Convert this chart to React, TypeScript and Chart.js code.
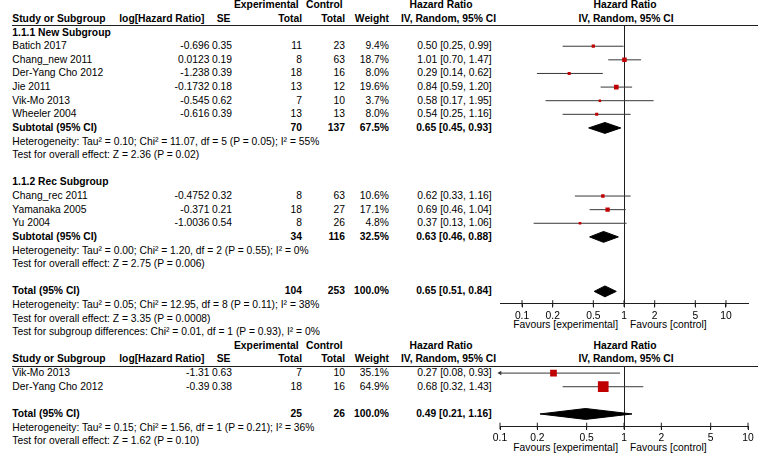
import React, { useEffect, useRef } from 'react';
import { Chart, registerables } from 'chart.js';

Chart.register(...registerables);

// ---------------- data: analysis 1 ----------------
const newGroupLabel = '1.1.1 New Subgroup';
const newStudies = ['Batich 2017', 'Chang_new 2011', 'Der-Yang Cho 2012', 'Jie 2011', 'Vik-Mo 2013', 'Wheeler 2004'];
const newLogHR = [-0.696, 0.0123, -1.238, -0.1732, -0.545, -0.616];
const newSE = [0.35, 0.19, 0.39, 0.18, 0.62, 0.39];
const newExpN = [11, 8, 18, 13, 7, 13];
const newCtrlN = [23, 63, 16, 12, 10, 13];
const newWeight = [9.4, 18.7, 8.0, 19.6, 3.7, 8.0];
const newHR = [0.5, 1.01, 0.29, 0.84, 0.58, 0.54];
const newLo = [0.25, 0.7, 0.14, 0.59, 0.17, 0.25];
const newHi = [0.99, 1.47, 0.62, 1.2, 1.95, 1.16];
// [exp N, ctrl N, weight, HR, lower, upper]
const newSubtotal = [70, 137, 67.5, 0.65, 0.45, 0.93];
const newStats = [
  'Heterogeneity: Tau² = 0.10; Chi² = 11.07, df = 5 (P = 0.05); I² = 55%',
  'Test for overall effect: Z = 2.36 (P = 0.02)',
];

const recGroupLabel = '1.1.2 Rec Subgroup';
const recStudies = ['Chang_rec 2011', 'Yamanaka 2005', 'Yu 2004'];
const recLogHR = [-0.4752, -0.371, -1.0036];
const recSE = [0.32, 0.21, 0.54];
const recExpN = [8, 18, 8];
const recCtrlN = [63, 27, 26];
const recWeight = [10.6, 17.1, 4.8];
const recHR = [0.62, 0.69, 0.37];
const recLo = [0.33, 0.46, 0.13];
const recHi = [1.16, 1.04, 1.06];
const recSubtotal = [34, 116, 32.5, 0.63, 0.46, 0.88];
const recStats = [
  'Heterogeneity: Tau² = 0.00; Chi² = 1.20, df = 2 (P = 0.55); I² = 0%',
  'Test for overall effect: Z = 2.75 (P = 0.006)',
];

const topTotal = [104, 253, 100.0, 0.65, 0.51, 0.84];
const topTotalStats = [
  'Heterogeneity: Tau² = 0.05; Chi² = 12.95, df = 8 (P = 0.11); I² = 38%',
  'Test for overall effect: Z = 3.35 (P = 0.0008)',
  'Test for subgroup differences: Chi² = 0.01, df = 1 (P = 0.93), I² = 0%',
];

// ---------------- data: analysis 2 ----------------
const botStudies = ['Vik-Mo 2013', 'Der-Yang Cho 2012'];
const botLogHR = [-1.31, -0.39];
const botSE = [0.63, 0.38];
const botExpN = [7, 18];
const botCtrlN = [10, 16];
const botWeight = [35.1, 64.9];
const botHR = [0.27, 0.68];
const botLo = [0.08, 0.32];
const botHi = [0.93, 1.43];
const botTotal = [25, 26, 100.0, 0.49, 0.21, 1.16];
const botStats = [
  'Heterogeneity: Tau² = 0.15; Chi² = 1.56, df = 1 (P = 0.21); I² = 36%',
  'Test for overall effect: Z = 1.62 (P = 0.10)',
];

// ---------------- axes / headers ----------------
const tickValues = [0.1, 0.2, 0.5, 1, 2, 5, 10];
const tickLabels = ['0.1', '0.2', '0.5', '1', '2', '5', '10'];
const topAxisRange = [0.0608, 16.44];
const botAxisRange = [0.1, 10];
const favoursLabels = ['Favours [experimental]', 'Favours [control]'];
const headerRow1 = ['Experimental', 'Control', 'Hazard Ratio', 'Hazard Ratio'];
const headerRow2 = ['Study or Subgroup', 'log[Hazard Ratio]', 'SE', 'Total', 'Total', 'Weight', 'IV, Random, 95% CI', 'IV, Random, 95% CI'];

// ---------------- styles / layout ----------------
const FONT = '"Liberation Sans", Arial, Helvetica, sans-serif';
const FS = 10.3;
const TEXT = '#000000';
const AXIS = '#1e1e1e';
const CI = '#383838';
const RED = '#c00000';
const ROW0 = 32.6;
const ROWH = 13.62;
const rowY = (r: number) => ROW0 + r * ROWH;
const rowAt = (px: number) => (px - ROW0) / ROWH;
const DH = 0.4; // diamond half-height in rows
const squareSide = (w: number) => 2 + 0.134 * w;

const COL = {
  study: 12.3,
  log: 209.5,
  logHead: 204.5,
  se: 232,
  seHead: 230.5,
  exp: 302,
  expHead: 234,
  ctrl: 345,
  ctrlHead: 306,
  w: 389,
  ci: 491.7,
  ciHead: 441,
  ciHead2: 448.5,
  plotHead: 625,
  plotHead2: 626,
};

type Align = 'left' | 'right' | 'center';
type Cell = { text: string; x: number; y: number; align: Align; bold: boolean };
type Study = { row: number; hr: number; lo: number; hi: number; weight: number };
type Diamond = { row: number; hr: number; lo: number; hi: number };

const fmtCI = (hr: number, lo: number, hi: number) => `${hr.toFixed(2)} [${lo.toFixed(2)}, ${hi.toFixed(2)}]`;

function buildLayout() {
  const cells: Cell[] = [];
  const add = (text: string, x: number, row: number, align: Align = 'left', bold = false) =>
    cells.push({ text, x, y: rowY(row), align, bold });
  const topStudies: Study[] = [];
  const topDiamonds: Diamond[] = [];
  const botStudyMarks: Study[] = [];
  const botDiamonds: Diamond[] = [];

  const header = (r: number) => {
    add(headerRow1[0], COL.expHead, r, 'left', true);
    add(headerRow1[1], COL.ctrlHead, r, 'left', true);
    add(headerRow1[2], COL.ciHead, r, 'center', true);
    add(headerRow1[3], COL.plotHead, r, 'center', true);
    add(headerRow2[0], COL.study, r + 1, 'left', true);
    add(headerRow2[1], COL.logHead, r + 1, 'right', true);
    add(headerRow2[2], COL.seHead, r + 1, 'right', true);
    add(headerRow2[3], COL.exp, r + 1, 'right', true);
    add(headerRow2[4], COL.ctrl, r + 1, 'right', true);
    add(headerRow2[5], COL.w, r + 1, 'right', true);
    add(headerRow2[6], COL.ciHead2, r + 1, 'center', true);
    add(headerRow2[7], COL.plotHead2, r + 1, 'center', true);
  };

  const studies = (
    names: string[], lg: number[], se: number[], en: number[], cn: number[], w: number[],
    hr: number[], lo: number[], hi: number[], start: number, marks: Study[]
  ) => {
    names.forEach((n, i) => {
      const r = start + i;
      add(n, COL.study, r);
      add(String(lg[i]), COL.log, r, 'right');
      add(se[i].toFixed(2), COL.se, r, 'right');
      add(String(en[i]), COL.exp, r, 'right');
      add(String(cn[i]), COL.ctrl, r, 'right');
      add(w[i].toFixed(1) + '%', COL.w, r, 'right');
      add(fmtCI(hr[i], lo[i], hi[i]), COL.ci, r, 'right');
      marks.push({ row: r, hr: hr[i], lo: lo[i], hi: hi[i], weight: w[i] });
    });
  };

  const summary = (label: string, s: number[], r: number, dia: Diamond[]) => {
    add(label, COL.study, r, 'left', true);
    add(String(s[0]), COL.exp, r, 'right', true);
    add(String(s[1]), COL.ctrl, r, 'right', true);
    add(s[2].toFixed(1) + '%', COL.w, r, 'right', true);
    add(fmtCI(s[3], s[4], s[5]), COL.ci, r, 'right', true);
    dia.push({ row: r, hr: s[3], lo: s[4], hi: s[5] });
  };

  const stats = (lines: string[], start: number) => lines.forEach((t, i) => add(t, COL.study, start + i));

  // analysis 1
  header(-2);
  add(newGroupLabel, COL.study, 0, 'left', true);
  studies(newStudies, newLogHR, newSE, newExpN, newCtrlN, newWeight, newHR, newLo, newHi, 1, topStudies);
  summary('Subtotal (95% CI)', newSubtotal, 7, topDiamonds);
  stats(newStats, 8);
  add(recGroupLabel, COL.study, 11, 'left', true);
  studies(recStudies, recLogHR, recSE, recExpN, recCtrlN, recWeight, recHR, recLo, recHi, 12, topStudies);
  summary('Subtotal (95% CI)', recSubtotal, 15, topDiamonds);
  stats(recStats, 16);
  summary('Total (95% CI)', topTotal, 19, topDiamonds);
  stats(topTotalStats, 20);

  // analysis 2
  header(23);
  studies(botStudies, botLogHR, botSE, botExpN, botCtrlN, botWeight, botHR, botLo, botHi, 25, botStudyMarks);
  summary('Total (95% CI)', botTotal, 28, botDiamonds);
  stats(botStats, 29);

  // favours labels under the axes
  add(favoursLabels[0], 618, rowAt(325), 'right');
  add(favoursLabels[1], 630, rowAt(325), 'left');
  add(favoursLabels[0], 618, rowAt(447.7), 'right');
  add(favoursLabels[1], 630, rowAt(447.7), 'left');

  return { cells, topStudies, topDiamonds, botStudyMarks, botDiamonds };
}

const LAYOUT = buildLayout();

type PlotProps = {
  left: number; top: number; width: number; height: number;
  padding: { left: number; right: number; top: number; bottom: number };
  axisHeight: number;
  xRange: number[];
  yMin: number; yMax: number;
  studies: Study[]; diamonds: Diamond[];
};

function ForestPlot(p: PlotProps) {
  const ref = useRef<HTMLCanvasElement | null>(null);
  useEffect(() => {
    if (!ref.current) return;
    const [xMin, xMax] = p.xRange;
    const datasets: any[] = [];
    // study squares
    datasets.push({
      data: p.studies.map((s) => ({ x: s.hr, y: s.row })),
      showLine: false,
      pointStyle: 'rect',
      pointRadius: p.studies.map((s) => squareSide(s.weight) / Math.SQRT2),
      pointBackgroundColor: RED,
      pointBorderWidth: 0,
      pointBorderColor: RED,
      order: 0,
    });
    // tick marks crossing the axis line
    datasets.push({
      data: tickValues.map((v) => ({ x: v, y: p.yMax })),
      showLine: false,
      pointStyle: 'line',
      pointRotation: 90,
      pointRadius: 3.3,
      pointBorderColor: AXIS,
      pointBorderWidth: 1,
      clip: false,
      order: 0,
    });
    p.studies.forEach((s) => {
      datasets.push({
        data: [{ x: s.lo, y: s.row }, { x: s.hi, y: s.row }],
        showLine: true,
        borderColor: CI,
        borderWidth: 1,
        pointRadius: 0,
        order: 2,
      });
      if (s.lo < xMin) {
        datasets.push({
          data: [{ x: xMin, y: s.row }],
          showLine: false,
          pointStyle: 'triangle',
          pointRotation: -90,
          pointRadius: 2.6,
          pointBackgroundColor: CI,
          pointBorderColor: CI,
          pointBorderWidth: 0,
          clip: false,
          order: 1,
        });
      }
    });
    p.diamonds.forEach((d) => {
      datasets.push({
        data: [{ x: d.lo, y: d.row }, { x: d.hr, y: d.row - DH }, { x: d.hi, y: d.row }],
        showLine: true,
        borderColor: '#000',
        borderWidth: 1,
        pointRadius: 0,
        fill: false,
        order: 3,
      });
      datasets.push({
        data: [{ x: d.lo, y: d.row }, { x: d.hr, y: d.row + DH }, { x: d.hi, y: d.row }],
        showLine: true,
        borderColor: '#000',
        borderWidth: 1,
        pointRadius: 0,
        fill: '-1',
        backgroundColor: '#000',
        order: 3,
      });
    });

    const chart = new Chart(ref.current, {
      type: 'scatter',
      data: { datasets },
      options: {
        animation: false,
        responsive: false,
        maintainAspectRatio: false,
        devicePixelRatio: 1,
        events: [],
        layout: { padding: p.padding },
        plugins: { legend: { display: false }, tooltip: { enabled: false } },
        scales: {
          x: {
            type: 'logarithmic',
            min: xMin,
            max: xMax,
            position: 'bottom',
            afterBuildTicks: (sc: any) => {
              sc.ticks = tickValues.map((v) => ({ value: v }));
            },
            afterFit: (sc: any) => {
              sc.height = p.axisHeight;
            },
            ticks: {
              autoSkip: false,
              maxRotation: 0,
              minRotation: 0,
              padding: 2,
              color: TEXT,
              font: { family: FONT, size: FS },
              callback: (v: any) => {
                const i = tickValues.indexOf(Number(v));
                return i >= 0 ? tickLabels[i] : '';
              },
            },
            grid: {
              color: (ctx: any) => (ctx.tick && ctx.tick.value === 1 ? AXIS : 'rgba(0,0,0,0)'),
              tickColor: AXIS,
              tickLength: 4,
              lineWidth: 1,
              drawOnChartArea: true,
              drawTicks: true,
            },
            border: { display: true, color: AXIS, width: 1 },
          },
          y: { type: 'linear', reverse: true, min: p.yMin, max: p.yMax, display: false },
        },
      } as any,
    });
    return () => chart.destroy();
  }, []);
  return (
    <canvas
      ref={ref}
      width={p.width}
      height={p.height}
      style={{ position: 'absolute', left: p.left, top: p.top, width: p.width, height: p.height }}
    />
  );
}

function cellStyle(c: Cell): React.CSSProperties {
  const s: React.CSSProperties = {
    position: 'absolute',
    top: c.y - 6,
    height: 12,
    lineHeight: '12px',
    whiteSpace: 'nowrap',
    fontWeight: c.bold ? 700 : 400,
  };
  if (c.align === 'left') s.left = c.x;
  else if (c.align === 'right') s.right = 760 - c.x;
  else {
    s.left = c.x;
    s.transform = 'translateX(-50%)';
  }
  return s;
}

export default function App() {
  return (
    <div
      style={{
        position: 'fixed', left: 0, top: 0, width: 760, height: 456, background: '#fff',
        overflow: 'hidden', fontFamily: FONT, fontSize: FS, color: TEXT,
      }}
    >
      {LAYOUT.cells.map((c, i) => (
        <div key={i} style={cellStyle(c)}>{c.text}</div>
      ))}
      <div style={{ position: 'absolute', left: 12, top: 25, width: 746, height: 0, borderTop: `1px solid ${AXIS}` }} />
      <div style={{ position: 'absolute', left: 12, top: 366, width: 746, height: 0, borderTop: `1px solid ${AXIS}` }} />
      <ForestPlot
        left={470} top={0} width={290} height={340}
        padding={{ left: 30, right: 12, top: 26, bottom: 6.5 }}
        axisHeight={30}
        xRange={topAxisRange}
        yMin={rowAt(26)} yMax={rowAt(303.5)}
        studies={LAYOUT.topStudies} diamonds={LAYOUT.topDiamonds}
      />
      <ForestPlot
        left={470} top={340} width={290} height={116}
        padding={{ left: 30, right: 12, top: 26.7, bottom: 6 }}
        axisHeight={24}
        xRange={botAxisRange}
        yMin={rowAt(366.7)} yMax={rowAt(426)}
        studies={LAYOUT.botStudyMarks} diamonds={LAYOUT.botDiamonds}
      />
    </div>
  );
}
